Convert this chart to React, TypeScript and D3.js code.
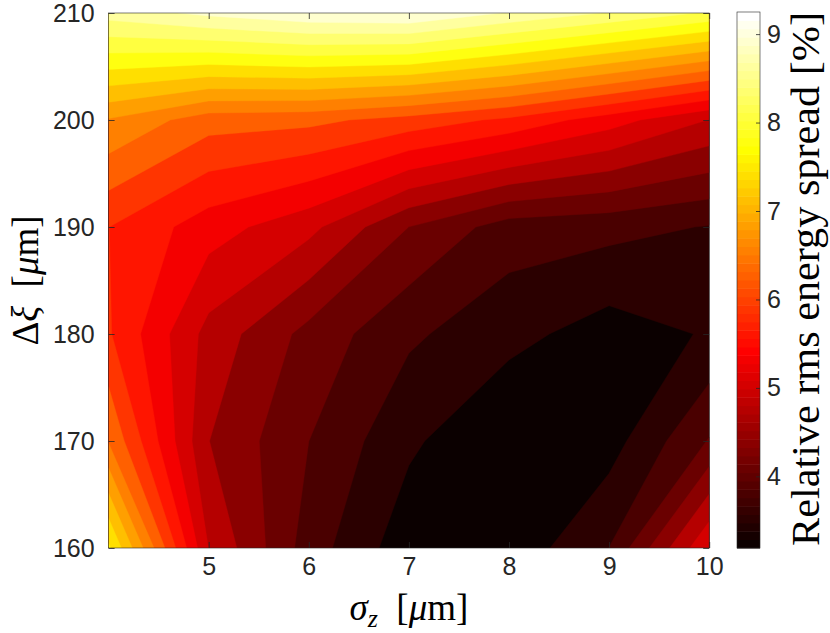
import React, { useEffect, useRef } from 'react';
import * as d3 from 'd3';

// grid: sigma_z (columns) x delta_xi (rows)
const sigmaZ = [4, 5, 6, 7, 8, 9, 10];
const deltaXi = [160, 170, 180, 190, 200, 210];

// relative rms energy spread [%], one array per delta_xi row
const spread160 = [7.79, 5.0, 3.95, 3.3, 3.28, 3.8, 5.3];
const spread170 = [6.5, 4.71, 4.1, 3.55, 3.19, 3.36, 4.12];
const spread180 = [5.95, 4.9, 4.3, 3.85, 3.59, 3.35, 3.52];
const spread190 = [5.92, 5.45, 5.1, 4.4, 3.95, 3.89, 3.78];
const spread200 = [6.8, 6.35, 6.3, 6.1, 5.85, 5.45, 5.0];
const spread210 = [8.78, 9.02, 9.2, 9.25, 8.92, 8.62, 8.3];

const xTicks = [5, 6, 7, 8, 9, 10];
const yTicks = [160, 170, 180, 190, 200, 210];
const cbTicks = [4, 5, 6, 7, 8, 9];
const nLevels = 20;

// matlab hot(64)
const hot = (i: number) => {
  const r = Math.min(1, (i + 1) / 24);
  const g = Math.max(0, Math.min(1, (i + 1 - 24) / 24));
  const b = Math.max(0, Math.min(1, (i + 1 - 48) / 16));
  return d3.rgb(r * 255, g * 255, b * 255).formatHex();
};

const App = () => {
  const svgRef = useRef<SVGSVGElement>(null);

  useEffect(() => {
    const svg = d3.select(svgRef.current);
    svg.selectAll('*').remove();

    const left = 108.6, right = 709.2, top = 13, bottom = 548;
    const x = d3.scaleLinear().domain([4, 10]).range([left, right]);
    const y = d3.scaleLinear().domain([160, 210]).range([bottom, top]);

    const rows = [spread160, spread170, spread180, spread190, spread200, spread210];
    const values = rows.flat();
    const zmin = d3.min(values)!;
    const zmax = d3.max(values)!;
    const levels = d3.range(nLevels).map(k => zmin + (k * (zmax - zmin)) / nLevels);

    const contours = d3.contours()
      .size([sigmaZ.length, deltaXi.length])
      .thresholds(levels)(values);

    // grid index -> data coordinate (d3 puts sample i at i + 0.5)
    const gx = d3.scaleLinear().domain([0.5, sigmaZ.length - 0.5]).range([x(sigmaZ[0]), x(sigmaZ[sigmaZ.length - 1])]);
    const gy = d3.scaleLinear().domain([0.5, deltaXi.length - 0.5]).range([y(deltaXi[0]), y(deltaXi[deltaXi.length - 1])]);
    const path = d3.geoPath();

    svg.append('defs').append('clipPath').attr('id', 'plotclip')
      .append('rect').attr('x', left).attr('y', top).attr('width', right - left).attr('height', bottom - top);

    const g = svg.append('g').attr('clip-path', 'url(#plotclip)');
    contours.forEach((c, k) => {
      const geom = {
        type: 'MultiPolygon',
        coordinates: c.coordinates.map(poly => poly.map(ring => ring.map(([i, j]) => [gx(i), gy(j)])))
      };
      const col = hot(Math.floor((k * 64) / nLevels));
      g.append('path')
        .attr('d', path(geom as any))
        .attr('fill', col)
        .attr('stroke', col)
        .attr('stroke-width', 0.4);
    });

    const axisColor = '#262626';
    const styleAxis = (sel: any) => {
      sel.select('.domain').remove();
      sel.selectAll('line').attr('stroke', axisColor).attr('stroke-width', 0.8);
      sel.selectAll('text')
        .attr('fill', axisColor)
        .style('font-family', '"Liberation Sans", Arial, sans-serif')
        .style('font-size', '25px');
    };

    svg.append('g').attr('transform', `translate(0,${bottom})`)
      .call(d3.axisBottom(x).tickValues(xTicks).tickSizeInner(-6).tickSizeOuter(0).tickPadding(9).tickFormat(d3.format('d')))
      .call(styleAxis);
    svg.append('g').attr('transform', `translate(0,${top})`)
      .call(d3.axisTop(x).tickValues(xTicks).tickSizeInner(-6).tickSizeOuter(0).tickFormat(() => ''))
      .call(styleAxis);
    svg.append('g').attr('transform', `translate(${left},0)`)
      .call(d3.axisLeft(y).tickValues(yTicks).tickSizeInner(-6).tickSizeOuter(0).tickPadding(14).tickFormat(d3.format('d')))
      .call(styleAxis);
    svg.append('g').attr('transform', `translate(${right},0)`)
      .call(d3.axisRight(y).tickValues(yTicks).tickSizeInner(-6).tickSizeOuter(0).tickFormat(() => ''))
      .call(styleAxis);

    svg.append('rect')
      .attr('x', left).attr('y', top).attr('width', right - left).attr('height', bottom - top)
      .attr('fill', 'none').attr('stroke', axisColor).attr('stroke-width', 0.6);

    // colorbar
    const cbLeft = 737, cbRight = 760;
    const cy = d3.scaleLinear().domain([zmin, zmax]).range([bottom, 12]);
    const steps = d3.range(64);
    svg.append('g').selectAll('rect').data(steps).enter().append('rect')
      .attr('x', cbLeft)
      .attr('width', cbRight - cbLeft)
      .attr('y', i => cy(zmin + ((i + 1) / 64) * (zmax - zmin)))
      .attr('height', i => cy(zmin + (i / 64) * (zmax - zmin)) - cy(zmin + ((i + 1) / 64) * (zmax - zmin)) + 0.5)
      .attr('fill', i => hot(i));

    svg.append('g').attr('transform', `translate(${cbRight},0)`)
      .call(d3.axisRight(cy).tickValues(cbTicks).tickSizeInner(-4).tickSizeOuter(0).tickPadding(7).tickFormat(d3.format('d')))
      .call(styleAxis);
    svg.append('rect')
      .attr('x', cbLeft).attr('y', 12).attr('width', cbRight - cbLeft).attr('height', bottom - 12)
      .attr('fill', 'none').attr('stroke', axisColor).attr('stroke-width', 0.6);

    const serif = '"Liberation Serif", "Times New Roman", serif';

    // x label: sigma_z [um]
    const xl = svg.append('text')
      .attr('x', (left + right) / 2).attr('y', 620)
      .attr('text-anchor', 'middle')
      .style('font-family', serif).style('font-size', '37px').attr('fill', '#000');
    xl.append('tspan').attr('font-style', 'italic').text('σ');
    xl.append('tspan').attr('font-style', 'italic').attr('font-size', '26px').attr('dy', 7).text('z');
    xl.append('tspan').attr('dy', -7).text('\u2002[');
    xl.append('tspan').attr('font-style', 'italic').text('μ');
    xl.append('tspan').text('m]');

    // y label: delta xi [um]
    const yl = svg.append('text')
      .attr('transform', `translate(38,${(top + bottom) / 2}) rotate(-90)`)
      .attr('text-anchor', 'middle')
      .style('font-family', serif).style('font-size', '37px').attr('fill', '#000');
    yl.append('tspan').text('Δ');
    yl.append('tspan').attr('font-style', 'italic').text('ξ');
    yl.append('tspan').text('\u2002[');
    yl.append('tspan').attr('font-style', 'italic').text('μ');
    yl.append('tspan').text('m]');

    // colorbar label
    svg.append('text')
      .attr('transform', `translate(819,${(10 + bottom) / 2}) rotate(-90)`)
      .attr('text-anchor', 'middle')
      .attr('textLength', 534)
      .attr('lengthAdjust', 'spacingAndGlyphs')
      .style('font-family', serif).style('font-size', '39px').attr('fill', '#000')
      .text('Relative rms energy spread [%]');
  }, []);

  return (
    <svg ref={svgRef} width={830} height={633}
      style={{ position: 'absolute', left: 0, top: 0, background: '#fff' }} />
  );
};

export default App;
